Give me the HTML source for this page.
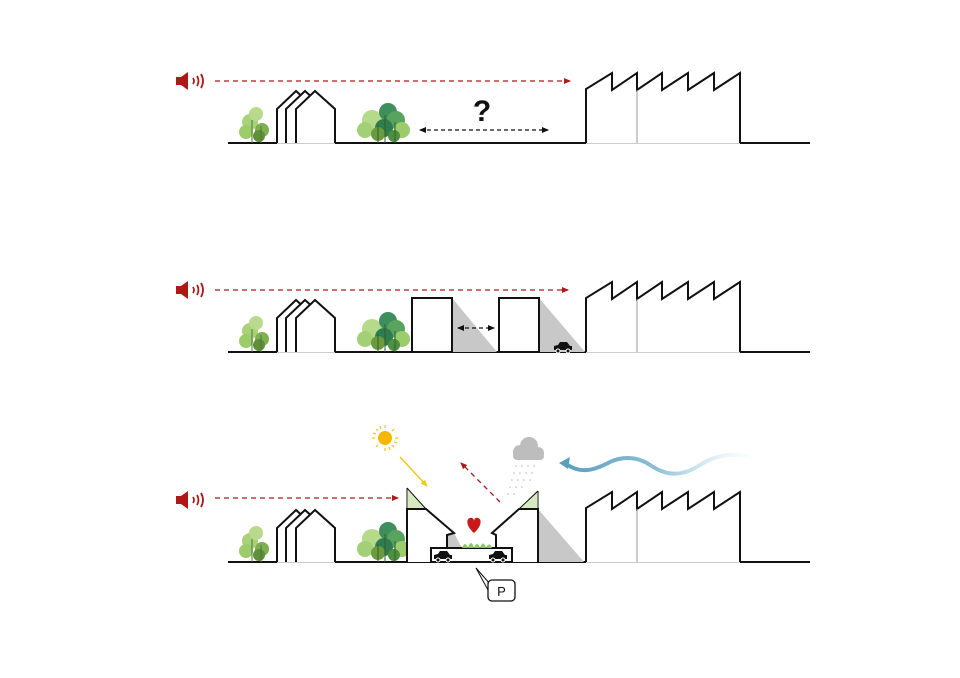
<!DOCTYPE html>
<html><head><meta charset="utf-8"><style>html,body{margin:0;padding:0;background:#fff}svg{display:block}</style></head>
<body>
<svg width="960" height="678" viewBox="0 0 960 678" xmlns="http://www.w3.org/2000/svg" font-family="Liberation Sans, sans-serif">
<defs>
<marker id="ar" markerWidth="8" markerHeight="8" refX="6" refY="4" orient="auto" markerUnits="userSpaceOnUse"><path d="M0,1 L7,4 L0,7 Z" fill="#b01818"/></marker>
<marker id="ak" markerWidth="8" markerHeight="8" refX="6" refY="4" orient="auto-start-reverse" markerUnits="userSpaceOnUse"><path d="M0,1 L7,4 L0,7 Z" fill="#111"/></marker>
<marker id="ay" markerWidth="9" markerHeight="9" refX="6" refY="4" orient="auto" markerUnits="userSpaceOnUse"><path d="M0,1 L7,4 L0,7 Z" fill="#f0c81e"/></marker>
<linearGradient id="wg" x1="0" x2="1"><stop offset="0" stop-color="#5a9fbf"/><stop offset="0.5" stop-color="#8fbfd6"/><stop offset="1" stop-color="#e8f2f7" stop-opacity="0.2"/></linearGradient>
<g id="common">
  <!-- speaker -->
  <path d="M176,77 h5 l7,-5 v18 l-7,-5 h-5 z" fill="#b01818"/>
  <path d="M193,78 q2,3 0,6 M197,76 q3,5 0,10 M201,74 q4,7 0,14" stroke="#b01818" stroke-width="1.8" fill="none"/>
  <!-- ground -->
  <path d="M228,143 H277 M335,143 H586 M740,143 H810" stroke="#111" stroke-width="2"/>
  <path d="M277,143 H335 M586,143 H740" stroke="#999" stroke-width="1"/>
  <!-- trees left -->
  <g>
    <circle cx="250" cy="122" r="8" fill="#a8d27a"/><circle cx="256" cy="114" r="7" fill="#b7da8c"/><circle cx="246" cy="132" r="7" fill="#9ccc6c"/>
    <circle cx="262" cy="130" r="7" fill="#7eb04f"/><circle cx="259" cy="136" r="6" fill="#5f8f3a"/>
    <path d="M252,143 V120 M261,143 V126" stroke="#4e7a2e" stroke-width="1"/>
  </g>
  <!-- houses -->
  <path d="M277,143 V109 L296,91 L316,109 V143" fill="#fff" stroke="#111" stroke-width="2"/>
  <path d="M286,143 V109 L305,91 L325,109 V143" fill="#fff" stroke="#111" stroke-width="2"/>
  <path d="M296,143 V109 L315,91 L335,109 V143" fill="#fff" stroke="#111" stroke-width="2"/>
  <!-- factory -->
  <path d="M586,143 V89 L612,73 V90 L637,73 V90 L662,73 V90 L688,73 V90 L714,73 V90 L740,73 V143" fill="#fff" stroke="#111" stroke-width="2"/>
  <path d="M637,90 V143" stroke="#999" stroke-width="1"/>
</g>
<g id="trees2">
  <circle cx="372" cy="120" r="10" fill="#b5da89"/><circle cx="365" cy="130" r="8" fill="#a3d076"/>
  <circle cx="388" cy="112" r="9" fill="#3f8f5e"/><circle cx="396" cy="120" r="9" fill="#5aa35f"/>
  <circle cx="384" cy="128" r="9" fill="#2f7d4e"/><circle cx="402" cy="130" r="8" fill="#9ccc6c"/>
  <circle cx="378" cy="134" r="7" fill="#6c9a3e"/><circle cx="394" cy="136" r="6" fill="#4f8f40"/>
  <path d="M385,143 V115 M378,143 V125 M395,143 V122" stroke="#2f5f2a" stroke-width="1"/>
</g>
</defs>

<!-- ROW 1 -->
<use href="#common"/>
<use href="#trees2"/>
<line x1="215" y1="81" x2="570" y2="81" stroke="#b01818" stroke-width="1.3" stroke-dasharray="5,4" marker-end="url(#ar)"/>
<text x="482" y="121" font-size="30" font-weight="bold" text-anchor="middle" fill="#111">?</text>
<line x1="420" y1="130" x2="548" y2="130" stroke="#111" stroke-width="1.3" stroke-dasharray="4,3" marker-start="url(#ak)" marker-end="url(#ak)"/>

<!-- ROW 2 -->
<g transform="translate(0,209)"><use href="#common"/><use href="#trees2"/></g>
<line x1="215" y1="290" x2="568" y2="290" stroke="#b01818" stroke-width="1.3" stroke-dasharray="5,4" marker-end="url(#ar)"/>
<polygon points="452,298 497,352 452,352" fill="#c8c8c8"/>
<polygon points="539,298 585,352 539,352" fill="#c8c8c8"/>
<rect x="412" y="298" width="40" height="54" fill="#fff" stroke="#111" stroke-width="2"/>
<rect x="499" y="298" width="40" height="54" fill="#fff" stroke="#111" stroke-width="2"/>
<line x1="458" y1="328" x2="494" y2="328" stroke="#111" stroke-width="1.3" stroke-dasharray="4,3" marker-start="url(#ak)" marker-end="url(#ak)"/>
<g transform="translate(563,348)"><path d="M-9,2 V-2 L-5,-3 L-3,-6 H4 L7,-2 H9 V2 Z" fill="#111"/><circle cx="-5" cy="3" r="2" fill="#111" stroke="#fff"/><circle cx="5" cy="3" r="2" fill="#111" stroke="#fff"/></g>

<!-- ROW 3 -->
<g transform="translate(0,419)"><use href="#common"/><use href="#trees2"/></g>
<line x1="215" y1="498" x2="398" y2="498" stroke="#b01818" stroke-width="1.3" stroke-dasharray="5,4" marker-end="url(#ar)"/>
<!-- shadow -->
<polygon points="538,509 584,562 538,562" fill="#c8c8c8"/>
<polygon points="447,535 454,533 462,548 447,548" fill="#c8c8c8"/>
<!-- roof greenery -->
<polygon points="408,490 425,508 408,508" fill="#d7eabf"/>
<polygon points="537,490 520,508 537,508" fill="#d7eabf"/>
<!-- buildings -->
<path d="M407,562 V509 H426 L454,533 L447,535 V548 H431 V562" fill="#fff" stroke="#111" stroke-width="2" stroke-linejoin="miter"/>
<path d="M407,488 L426,509" stroke="#111" stroke-width="1"/>
<path d="M538,562 V509 H519 L492,533 L496,535 V548 H512 V562" fill="#fff" stroke="#111" stroke-width="2"/>
<path d="M538,491 L519,509 M407,488 V509 M538,491 V509" stroke="#111" stroke-width="1"/>
<rect x="431" y="548" width="81" height="14" fill="#fff" stroke="#111" stroke-width="2"/>
<path d="M447,548 V535 M496,548 V535" stroke="#111" stroke-width="1.5"/>
<!-- courtyard greenery -->
<path d="M462,548 q3,-8 6,0 q3,-10 6,0 q3,-8 6,0 q3,-9 6,0 q3,-7 6,0" fill="#8cc860"/>
<!-- heart -->
<path d="M474,533 C466,526 466,519 470,518 C473,517 474,520 474,521 C474,520 475,517 478,518 C482,519 482,526 474,533 Z" fill="#c81818"/>
<!-- cars -->
<g transform="translate(443,557)"><path d="M-9,2 V-2 L-5,-3 L-3,-6 H4 L7,-2 H9 V2 Z" fill="#111"/><circle cx="-5" cy="3" r="2" fill="#111" stroke="#fff"/><circle cx="5" cy="3" r="2" fill="#111" stroke="#fff"/></g>
<g transform="translate(498,557)"><path d="M-9,2 V-2 L-5,-3 L-3,-6 H4 L7,-2 H9 V2 Z" fill="#111"/><circle cx="-5" cy="3" r="2" fill="#111" stroke="#fff"/><circle cx="5" cy="3" r="2" fill="#111" stroke="#fff"/></g>
<!-- sun -->
<circle cx="385" cy="438" r="7" fill="#f5b800"/>
<g stroke="#f5c830" stroke-width="1.3">
<line x1="385" y1="425" x2="385" y2="428"/><line x1="385" y1="448" x2="385" y2="451"/><line x1="372" y1="438" x2="375" y2="438"/><line x1="395" y1="438" x2="398" y2="438"/>
<line x1="376" y1="429" x2="378" y2="431"/><line x1="392" y1="445" x2="394" y2="447"/><line x1="394" y1="429" x2="392" y2="431"/><line x1="376" y1="447" x2="378" y2="445"/>
<line x1="380" y1="426" x2="381" y2="429"/><line x1="389" y1="447" x2="390" y2="450"/><line x1="373" y1="433" x2="376" y2="434"/><line x1="394" y1="442" x2="397" y2="443"/>
</g>
<line x1="400" y1="457" x2="427" y2="486" stroke="#f0c81e" stroke-width="1.5" marker-end="url(#ay)"/>
<!-- red dashed up -->
<line x1="500" y1="502" x2="461" y2="463" stroke="#b01818" stroke-width="1.3" stroke-dasharray="5,4" marker-end="url(#ar)"/>
<!-- cloud -->
<g fill="#bdbdbd"><circle cx="520" cy="452" r="7"/><circle cx="529" cy="446" r="9"/><circle cx="538" cy="453" r="6"/><rect x="513" y="452" width="31" height="8" rx="4"/></g>
<g fill="#bbb">
<circle cx="516" cy="466" r="0.8"/><circle cx="522" cy="466" r="0.8"/><circle cx="528" cy="466" r="0.8"/><circle cx="534" cy="466" r="0.8"/>
<circle cx="514" cy="473" r="0.8"/><circle cx="520" cy="473" r="0.8"/><circle cx="526" cy="473" r="0.8"/><circle cx="532" cy="473" r="0.8"/>
<circle cx="512" cy="480" r="0.8"/><circle cx="518" cy="480" r="0.8"/><circle cx="524" cy="480" r="0.8"/><circle cx="530" cy="480" r="0.8"/>
<circle cx="510" cy="487" r="0.8"/><circle cx="516" cy="487" r="0.8"/><circle cx="522" cy="487" r="0.8"/>
<circle cx="508" cy="494" r="0.8"/><circle cx="514" cy="494" r="0.8"/>
</g>
<!-- wind -->
<path d="M565,463 C580,475 595,470 610,462 C625,455 640,458 650,465 C665,475 680,478 700,465 C715,455 735,452 750,458" stroke="url(#wg)" stroke-width="4" fill="none" stroke-linecap="round"/>
<path d="M559,463 L570,457 L568,469 Z" fill="#5a9fbf"/>
<!-- P callout -->
<path d="M476,568 L490,584" stroke="#111" stroke-width="1"/>
<path d="M476,568 L488,590" stroke="#111" stroke-width="1"/>
<rect x="488" y="580" width="27" height="21" rx="4" fill="#fff" stroke="#111" stroke-width="1.3"/>
<text x="501.5" y="596" font-size="13" text-anchor="middle" fill="#111">P</text>
</svg>
</body></html>
